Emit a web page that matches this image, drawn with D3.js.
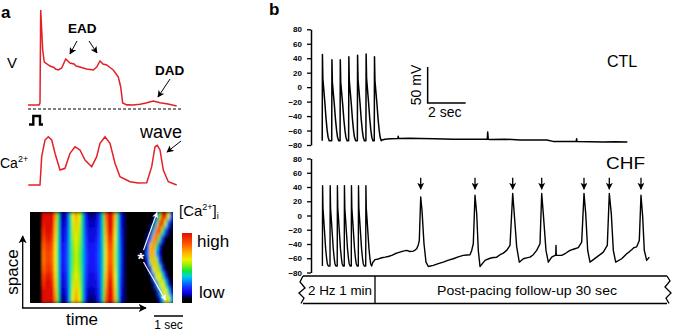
<!DOCTYPE html>
<html><head><meta charset="utf-8">
<script src="https://cdn.jsdelivr.net/npm/d3@7"></script>
<style>
body{margin:0;background:#fff}
svg{display:block;font-family:"Liberation Sans",Arial,sans-serif}
</style>
</head><body>
<svg id="c" width="675" height="331"></svg>
<script>
// ---------- Panel a data ----------
// membrane voltage trace (time units, amplitude units above rest)
const vTime = [0,11,12,12.7,14.7,16.3,22,26,27.5,30.3,33.7,37.7,42,46,48,52,55,58.7,62,65.3,68.7,72,75,78.7,82,85.3,90.3,92.7,94.7,98.7,100,105,112,118,125.3,132,140,148.7];
const vAmp  = [0,0,2,95,55,43,39,37.5,36,35,37,46,42,41,39,38,37,36,35.5,35,38,44,41,40,37.5,35,28,18,2,0,0.3,0,0.7,2,4,2.3,1,-1];
// calcium transient trace
const caTime = [0.3,12,13.7,17,20.3,23.7,27,32,37,42,47,52,57,63.7,68.7,72,77,82,87,92,102,110,118.7,123.7,127,129.3,132,135.3,140.3,148.7];
const caAmp  = [0,0,28.3,45,48.3,45,31.7,15,16.7,31.7,38.3,35,25,18.3,28.3,41.7,48.3,41.7,21.7,8.3,3.3,2,2.3,18.3,38.3,39.7,35,15,3.3,0];
// stimulus pulse
const stimTime = [1,5.3,5.3,12,12,15];
const stimLevel = [0,0,1,1,0,0];
// line-scan image: mean intensity per time column (48 columns)
const heatProfile = [0,0,0,0,0.88,0.96,0.98,0.9,0.66,0.42,0.18,0.17,0.24,0.4,0.55,0.63,0.55,0.42,0.26,0.18,0.16,0.17,0.2,0.27,0.42,0.7,0.93,0.9,0.62,0.4,0.22,0.1,0.02,0.02,0.02,0.02,0.02,0.02,0.02,0.02,0.02,0.02,0.02,0.02,0.02,0.02,0.02,0.02];
// contrast per space row (12 rows, top to bottom)
const heatRowContrast = [0.35,0.2,0.1,0,-0.1,-0.15,-0.15,-0.1,0,0.1,0.25,0.4];
// spontaneous Ca wave (columns 37..47, rows top to bottom)
const waveStartCol = 37;
const waveMatrix = [
  [0,0,0,0,0,0.15,0.5,0.95,0.95,0.6,0.25],
  [0,0,0,0,0.1,0.4,0.85,0.9,0.55,0.25,0.1],
  [0,0,0,0.1,0.35,0.8,0.85,0.5,0.25,0.1,0],
  [0,0,0.1,0.3,0.75,0.8,0.45,0.2,0.05,0,0],
  [0,0.05,0.25,0.7,0.75,0.45,0.2,0.05,0,0,0],
  [0,0.1,0.3,0.72,0.7,0.35,0.15,0,0,0,0],
  [0,0.02,0.2,0.55,0.7,0.55,0.25,0.05,0,0,0],
  [0,0,0.05,0.25,0.6,0.68,0.5,0.2,0.05,0,0],
  [0,0,0,0.08,0.3,0.6,0.62,0.45,0.2,0.02,0],
  [0,0,0,0,0.1,0.3,0.58,0.62,0.42,0.15,0],
  [0,0,0,0,0,0.1,0.3,0.58,0.62,0.4,0.15],
  [0,0,0,0,0,0,0.12,0.35,0.6,0.6,0.35]
];
const cmapStops = [0,0.06,0.12,0.2,0.3,0.38,0.46,0.55,0.62,0.72,0.85,1];
const cmapColors = ["#000000","#000000","#0000c0","#1a1aff","#0080ff","#00d0e0","#10e840","#a0f000","#f0f000","#ffb000","#ff5000","#e01000"];

// ---------- Panel b data ----------
const yTicks = [-80,-60,-40,-20,0,20,40,60,80];
const ctlOnsets = [0.59,1.09,1.53,1.98,2.44,2.89,3.33];
const ctlPeaks  = [45,38,38,42,44,46,42];
const ctlRest = -74;
const ctlShape = [[0,0],[0.012,1],[0.035,0.72],[0.08,0.6],[0.14,0.44],[0.2,0.26],[0.26,0.12],[0.31,0.04],[0.37,0]];
const ctlTail = [[3.75,-73],[3.89,-72],[4.2,-71.5],[4.57,-71],[4.59,-68],[4.61,-71],[5.2,-70.5],[5.74,-71],[6.5,-71.5],[7.47,-72],[8.3,-72],[9.05,-72],[9.28,-72],[9.30,-62],[9.33,-72],[9.42,-72.5],[10.2,-72],[11.0,-73],[11.8,-73],[12.41,-73],[12.74,-75],[13.4,-75],[13.96,-75],[13.98,-71.5],[14.0,-75],[14.7,-75.5],[15.37,-76],[16.0,-75.5],[16.65,-76]];
const chfOnsets = [0.6,1.0,1.38,1.75,2.12,2.49,2.88];
const chfPeaks  = [42,42,42,42,42,42,42];
const chfRest = -71;
const chfShape = [[0,0],[0.01,1],[0.03,0.72],[0.07,0.58],[0.12,0.4],[0.17,0.22],[0.22,0.1],[0.26,0.03],[0.31,0]];
const chfTail = [[3.25,-66],[3.368,-62],[3.55,-61],[3.721,-59.3],[3.9,-58.5],[4.068,-57.5],[4.25,-56],[4.421,-53.7],[4.55,-52.5],[4.684,-51.4],[4.85,-50],[5.037,-49],[5.2,-50.5],[5.384,-50],[5.48,-48.5],[5.563,-46.6],[5.65,-41],[5.700,-35],[5.774,26],[5.842,7.4],[5.947,-39.6],[6.053,-65.5],[6.174,-71.6],[6.437,-70],[6.7,-67.5],[6.963,-65.5],[7.2,-63],[7.489,-60.7],[7.75,-58],[8.016,-56],[8.2,-55.5],[8.368,-55],[8.458,-49],[8.542,-39.6],[8.632,28.5],[8.721,2.7],[8.805,-49],[8.895,-71.6],[9.158,-63],[9.421,-60],[9.6,-59],[9.774,-58.5],[9.95,-55],[10.121,-52.8],[10.3,-49],[10.474,-42],[10.616,31],[10.684,7.4],[10.826,-44],[10.963,-65.5],[11.174,-60.7],[11.35,-59.5],[11.526,-58.5],[11.7,-55],[11.879,-49],[12.053,-39.6],[12.142,31],[12.226,2.7],[12.368,-49],[12.489,-65.5],[12.668,-58.5],[12.842,-56],[12.88,-56],[12.895,-42],[12.91,-56],[13.195,-56],[13.4,-53],[13.632,-49],[13.85,-47],[14.068,-45.2],[14.247,-37.3],[14.368,31],[14.458,2.7],[14.563,-49],[14.684,-65.5],[15.037,-58.5],[15.384,-51.4],[15.595,-42],[15.700,31],[15.805,2.7],[15.911,-49],[16.037,-65.5],[16.353,-60.7],[16.616,-53.7],[16.75,-51],[16.879,-48],[17.0,-45],[17.142,-44],[17.279,-35],[17.368,28.5],[17.458,-2],[17.542,-49],[17.668,-63],[17.805,-58.5]];
const chfArrowTimes = [5.774,8.632,10.616,12.142,14.368,15.700,17.368];
const scaleBarT = [6.14, 8.14];   // 2 sec
const scaleBarV = [-22, 28];      // 50 mV

// ---------- drawing ----------
const svg = d3.select("#c");
svg.append("rect").attr("width",675).attr("height",331).attr("fill","#fff");
const defs = svg.append("defs");
function marker(id, color, size){
  defs.append("marker").attr("id",id).attr("viewBox","0 0 10 10").attr("refX",9).attr("refY",5)
    .attr("markerWidth",size).attr("markerHeight",size).attr("orient","auto").attr("markerUnits","userSpaceOnUse")
    .append("path").attr("d","M0,0 L10,5 L0,10 L2.5,5 Z").attr("fill",color);
}
marker("ab","#000",7); marker("aw","#fff",6); marker("ab2","#000",8);

const RED = "#e41f26";
// V trace
const ax = d3.scaleLinear().domain([0,150]).range([28,178]);
const vy = d3.scaleLinear().domain([0,95]).range([105,10]);
svg.append("path").datum(d3.zip(vTime,vAmp)).attr("fill","none").attr("stroke",RED).attr("stroke-width",1.5)
  .attr("d",d3.line().x(d=>ax(d[0])).y(d=>vy(d[1])));
// dashed baseline
svg.append("line").attr("x1",ax(0)).attr("x2",ax(155)).attr("y1",vy(-4)).attr("y2",vy(-4))
  .attr("stroke","#000").attr("stroke-width",1).attr("stroke-dasharray","3,2");
// stimulus
const sy = d3.scaleLinear().domain([0,1]).range([124.5,116]);
svg.append("path").datum(d3.zip(stimTime,stimLevel)).attr("fill","none").attr("stroke","#000").attr("stroke-width",2.4)
  .attr("d",d3.line().x(d=>ax(d[0])).y(d=>sy(d[1])));
// Ca trace
const cy = d3.scaleLinear().domain([0,48.3]).range([185,136.7]);
svg.append("path").datum(d3.zip(caTime,caAmp)).attr("fill","none").attr("stroke",RED).attr("stroke-width",1.5)
  .attr("d",d3.line().x(d=>ax(d[0])).y(d=>cy(d[1])));

// labels panel a
svg.append("text").attr("x",1).attr("y",18).attr("font-size",17).attr("font-weight","bold").text("a");
svg.append("text").attr("x",7).attr("y",68).attr("font-size",15).text("V");
svg.append("text").attr("x",68).attr("y",33).attr("font-size",13.5).attr("font-weight","bold").text("EAD");
svg.append("text").attr("x",155).attr("y",75).attr("font-size",13.5).attr("font-weight","bold").text("DAD");
const caT = svg.append("text").attr("x",0).attr("y",168).attr("font-size",14);
caT.append("tspan").text("Ca");
caT.append("tspan").attr("dy",-6).attr("font-size",9).text("2+");
svg.append("text").attr("x",140).attr("y",138).attr("font-size",18).text("wave");
function arrow(x1,y1,x2,y2,m,w,c){svg.append("line").attr("x1",x1).attr("y1",y1).attr("x2",x2).attr("y2",y2)
  .attr("stroke",c||"#000").attr("stroke-width",w||1).attr("marker-end","url(#"+m+")");}
arrow(77,41,70,54,"ab");
arrow(89,41,97,53,"ab");
arrow(170,79,158,97,"ab");
arrow(181,141,167,152,"ab");

// heatmap
const hx = d3.scaleLinear().domain([0,48]).range([30,173]);
const hy = d3.scaleLinear().domain([0,12]).range([212,303]);
const cmap = d3.scaleLinear().domain(cmapStops).range(cmapColors).clamp(true);
const cells = [];
heatRowContrast.forEach((k,r)=>{
  heatProfile.forEach((p,c)=>{
    let v = p>0.1 ? p + k*(p-0.35) : p;
    if (c>=waveStartCol) v = Math.max(v, waveMatrix[r][c-waveStartCol]);
    cells.push({r,c,v});
  });
});
defs.append("clipPath").attr("id","hclip").append("rect").attr("x",hx(0)).attr("y",hy(0))
  .attr("width",hx(48)-hx(0)).attr("height",hy(12)-hy(0));
const f = defs.append("filter").attr("id","blur").attr("x","-10%").attr("y","-10%").attr("width","120%").attr("height","120%");
f.append("feGaussianBlur").attr("stdDeviation","0.9 2.2");
const hg = svg.append("g").attr("clip-path","url(#hclip)");
hg.append("rect").attr("x",hx(0)).attr("y",hy(0)).attr("width",hx(48)-hx(0)).attr("height",hy(12)-hy(0)).attr("fill","#000");
hg.append("g").attr("filter","url(#blur)").selectAll("rect").data(cells).join("rect")
  .attr("x",d=>hx(d.c)).attr("y",d=>hy(d.r)).attr("width",hx(1)-hx(0)+0.6).attr("height",hy(1)-hy(0)+0.6)
  .attr("fill",d=>cmap(d.v));
// white arrows + asterisk
arrow(143.5,250,157,212.5,"aw",1.1,"#fff");
arrow(143.5,262,165.5,300,"aw",1.1,"#fff");
svg.append("text").attr("x",140.7).attr("y",265).attr("text-anchor","middle").attr("font-size",17).attr("font-weight","bold").attr("fill","#fff").text("*");

// colorbar
const cbY = d3.scaleLinear().domain([0,1]).range([303,233]);
const grad = defs.append("linearGradient").attr("id","cb").attr("x1",0).attr("x2",0).attr("y1",1).attr("y2",0);
cmapStops.forEach((s,i)=>grad.append("stop").attr("offset",s).attr("stop-color",cmapColors[i]));
svg.append("rect").attr("x",182).attr("y",cbY(1)).attr("width",10).attr("height",cbY(0)-cbY(1)).attr("fill","url(#cb)");
const ct = svg.append("text").attr("x",179).attr("y",216).attr("font-size",15);
ct.append("tspan").text("[Ca");
ct.append("tspan").attr("dy",-6).attr("font-size",9).text("2+");
ct.append("tspan").attr("dy",6).text("]");
ct.append("tspan").attr("dy",3).attr("font-size",9).text("i");
svg.append("text").attr("x",197).attr("y",247).attr("font-size",17).text("high");
svg.append("text").attr("x",199).attr("y",298).attr("font-size",17).text("low");

// space/time axes
arrow(22.7,308.5,22.7,236,"ab2",1.3);
arrow(22.2,308,146,308,"ab2",1.3);
svg.append("text").attr("transform","translate(18,272) rotate(-90)").attr("text-anchor","middle").attr("font-size",17).text("space");
svg.append("text").attr("x",82).attr("y",325).attr("text-anchor","middle").attr("font-size",17).text("time");
svg.append("line").attr("x1",154).attr("x2",183).attr("y1",316).attr("y2",316).attr("stroke","#000").attr("stroke-width",1.5);
svg.append("text").attr("x",168.5).attr("y",329).attr("text-anchor","middle").attr("font-size",12).text("1 sec");

// ---------- Panel b ----------
svg.append("text").attr("x",269).attr("y",15).attr("font-size",17).attr("font-weight","bold").text("b");
const bx = d3.scaleLinear().domain([0,19]).range([311,672]);
const yTop = d3.scaleLinear().domain([-80,80]).range([145,29.3]);
const yBot = d3.scaleLinear().domain([-80,80]).range([272.5,158.5]);
function drawAxis(scale){
  const g = svg.append("g").attr("transform","translate("+bx(0)+",0)")
    .call(d3.axisLeft(scale).tickValues(yTicks).tickSize(4).tickSizeOuter(0).tickPadding(5));
  g.attr("font-family","Liberation Sans, Arial, sans-serif").attr("font-size",8).attr("font-weight","bold");
  g.select(".domain").attr("stroke-width",1.5);
  g.selectAll(".tick line").attr("stroke-width",1.3);
}
drawAxis(yTop); drawAxis(yBot);

function buildTrace(onsets, peaks, rest, shape, tail){
  const pts = [];
  onsets.forEach((t0,i)=>{
    shape.forEach(([dt,fr])=>pts.push([t0+dt, rest + fr*(peaks[i]-rest)]));
  });
  return pts.concat(tail);
}
const ctl = buildTrace(ctlOnsets, ctlPeaks, ctlRest, ctlShape, ctlTail);
const chf = buildTrace(chfOnsets, chfPeaks, chfRest, chfShape, chfTail);
svg.append("path").datum(ctl).attr("fill","none").attr("stroke","#000").attr("stroke-width",1.5)
  .attr("stroke-linejoin","round").attr("d",d3.line().x(d=>bx(d[0])).y(d=>yTop(d[1])));
svg.append("path").datum(chf).attr("fill","none").attr("stroke","#000").attr("stroke-width",1.4)
  .attr("stroke-linejoin","round").attr("d",d3.line().x(d=>bx(d[0])).y(d=>yBot(d[1])));

// arrows over spontaneous APs
chfArrowTimes.forEach(t=>arrow(bx(t),yBot(53),bx(t),yBot(37),"ab",1.3));

// labels
svg.append("text").attr("x",607).attr("y",67).attr("font-size",16).text("CTL");
svg.append("text").attr("x",606).attr("y",169).attr("font-size",16).attr("textLength",39).attr("lengthAdjust","spacingAndGlyphs").text("CHF");

// scale bar
svg.append("path").attr("fill","none").attr("stroke","#000").attr("stroke-width",1.5)
  .attr("d","M"+bx(scaleBarT[0])+","+yTop(scaleBarV[1])+"V"+yTop(scaleBarV[0])+"H"+bx(scaleBarT[1]));
svg.append("text").attr("transform","translate(421,"+((yTop(scaleBarV[0])+yTop(scaleBarV[1]))/2)+") rotate(-90)")
  .attr("text-anchor","middle").attr("font-size",14).text("50 mV");
svg.append("text").attr("x",428).attr("y",117).attr("font-size",14).text("2 sec");

// protocol box
const bt = 276, bb = 303.5;
svg.append("path").attr("fill","none").attr("stroke","#000").attr("stroke-width",1.3)
  .attr("d",`M303,${bt}H667 M303,${bb}H667 M303,${bt}L300,282L305,288L299,293L304,298L301,${bb} M667,${bt}L670,281L665,287L671,293L666,298L669,${bb} M375,${bt}V${bb}`);
svg.append("text").attr("x",308).attr("y",295).attr("font-size",12.5).attr("textLength",64).attr("lengthAdjust","spacingAndGlyphs").text("2 Hz 1 min");
svg.append("text").attr("x",437).attr("y",295).attr("font-size",12.5).attr("textLength",180).attr("lengthAdjust","spacingAndGlyphs").text("Post-pacing follow-up 30 sec");
</script>
</body></html>
